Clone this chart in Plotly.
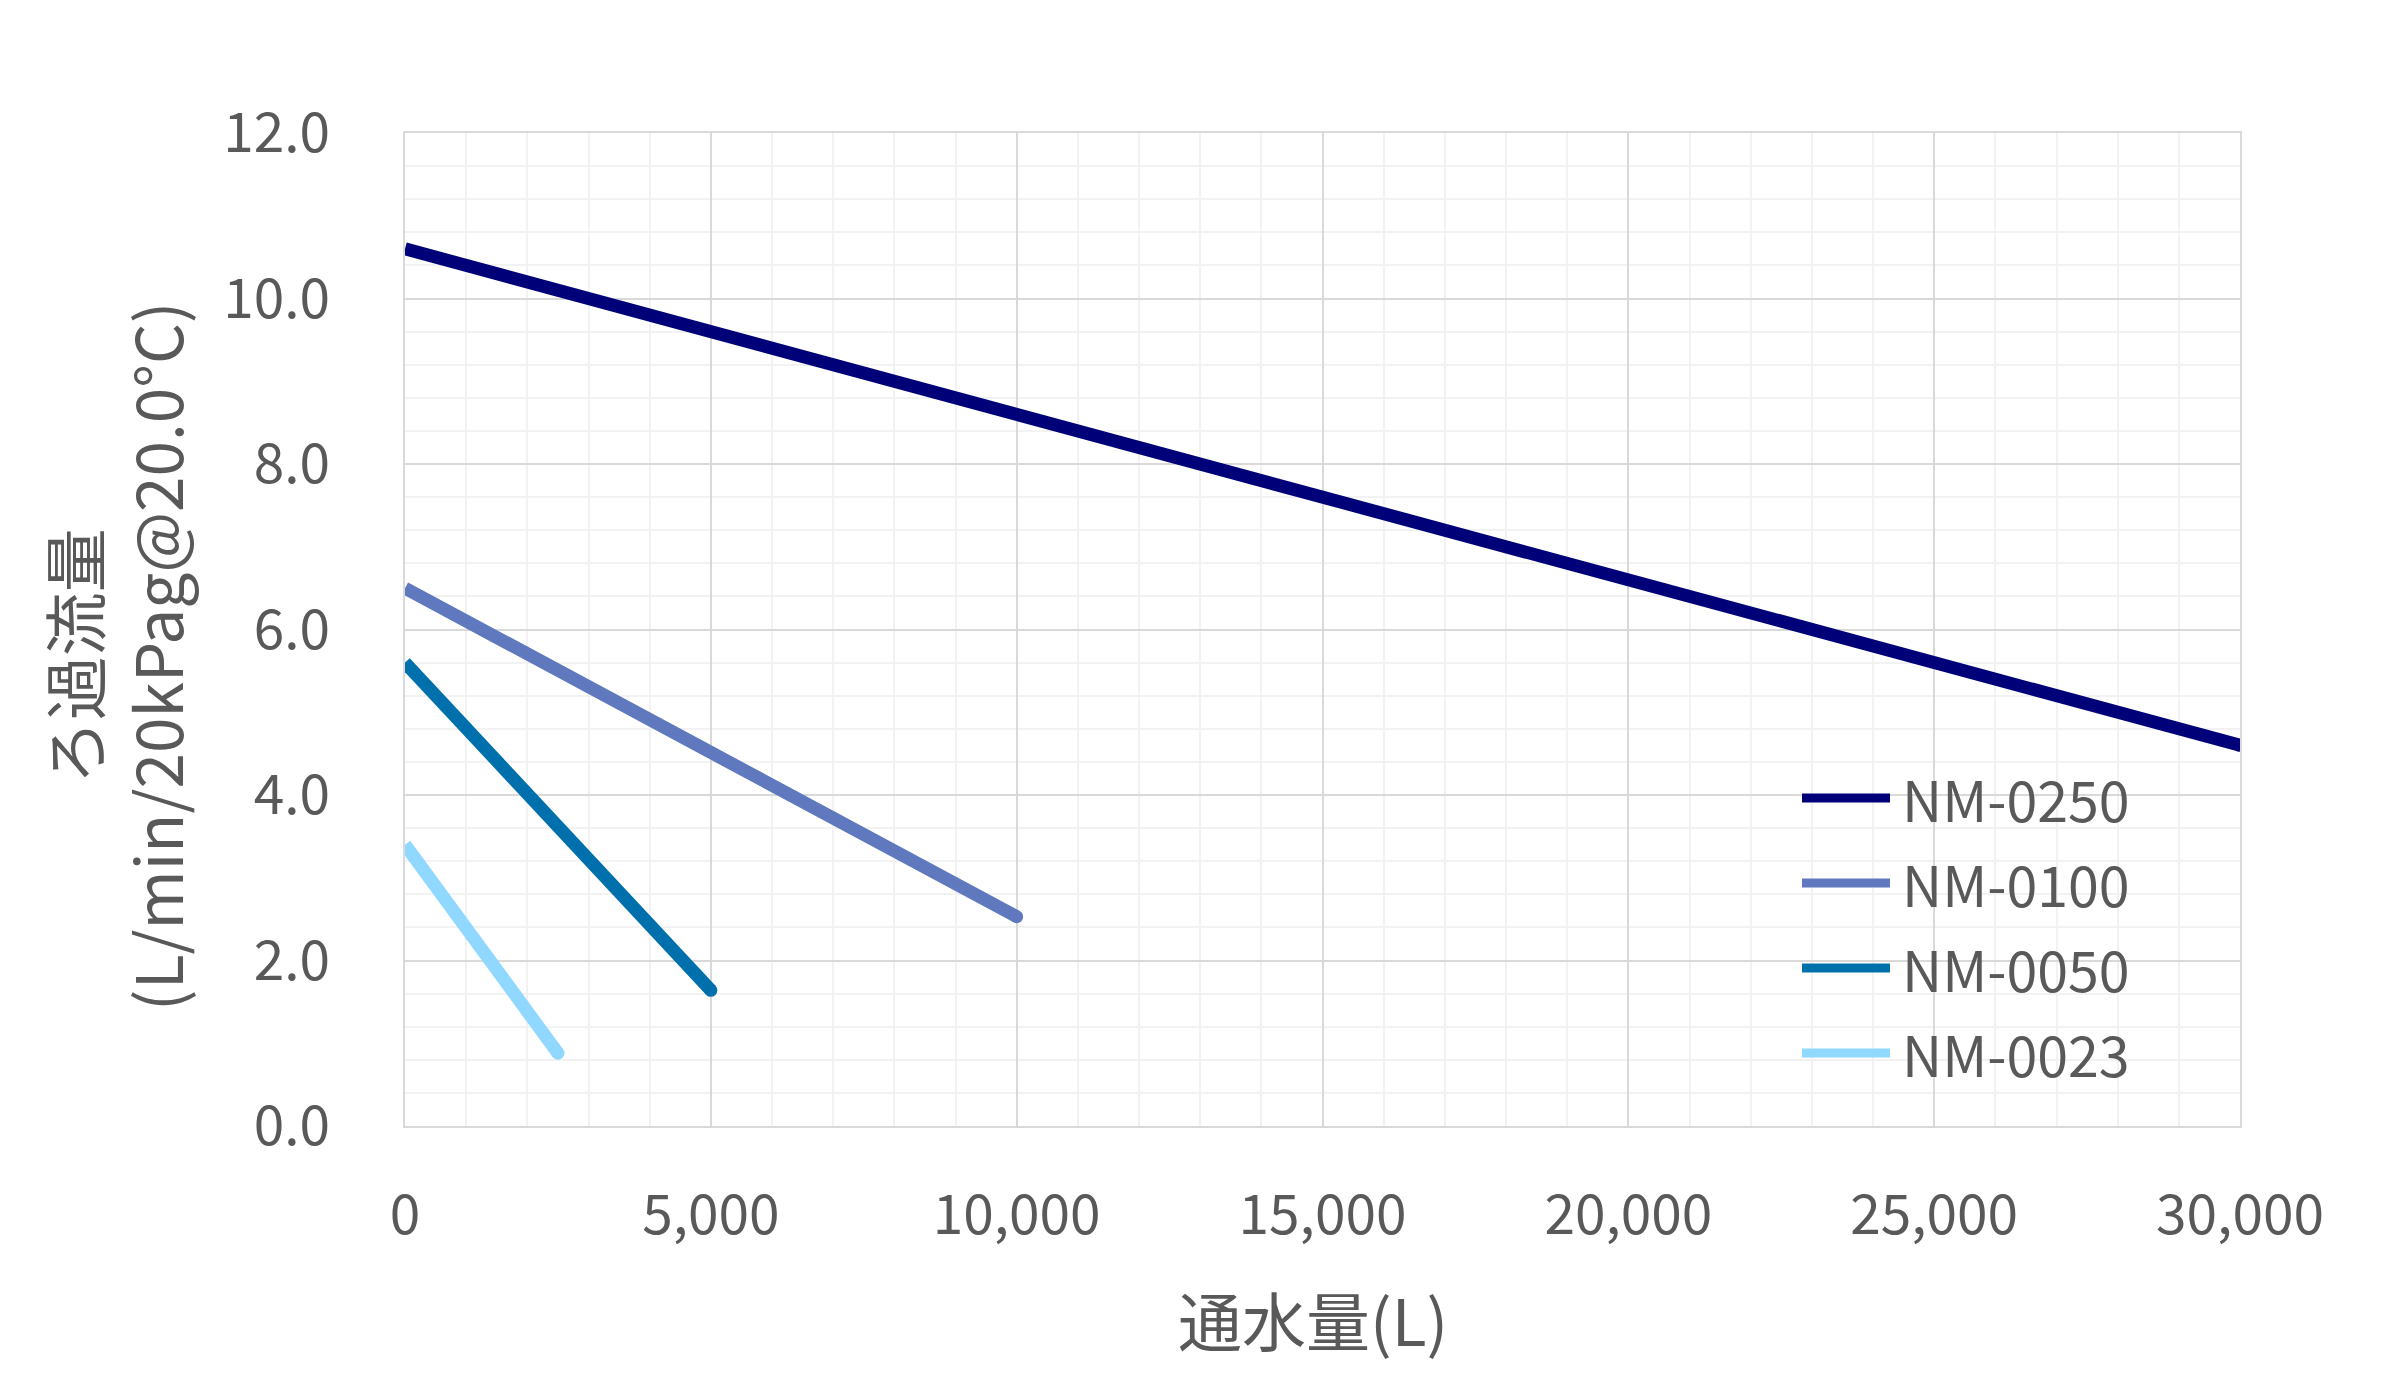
import plotly.graph_objects as go

# ---- data ----
series_names = ["NM-0250", "NM-0100", "NM-0050", "NM-0023"]
series_colors = ["#000078", "#6078BE", "#0070AC", "#90D8FF"]

x_nm0250 = [0, 5000, 10000, 15000, 20000, 25000, 30000]
y_nm0250 = [10.6, 9.6, 8.6, 7.6, 6.6, 5.6, 4.6]

x_nm0100 = [0, 5000, 10000]
y_nm0100 = [6.5, 4.52, 2.53]

x_nm0050 = [0, 5000]
y_nm0050 = [5.6, 1.64]

x_nm0023 = [0, 2500]
y_nm0023 = [3.4, 0.88]

x_title = "通水量(L)"
y_title = "ろ過流量<br>(L/min/20kPag@20.0°C)"

xs = [x_nm0250, x_nm0100, x_nm0050, x_nm0023]
ys = [y_nm0250, y_nm0100, y_nm0050, y_nm0023]

FONT = "Noto Sans CJK JP"
GRAY = "#595959"
W, H = 2403, 1397
ML, MR, MT, MB = 405, 163, 133, 271
PW, PH = W - ML - MR, H - MT - MB

fig = go.Figure()
LW = 13
for name, col, x, y in zip(series_names, series_colors, xs, ys):
    fig.add_trace(go.Scatter(x=x, y=y, mode="lines", name=name,
                             line=dict(color=col, width=LW), showlegend=False))
    # round end caps
    fig.add_trace(go.Scatter(x=[x[-1]], y=[y[-1]], mode="markers", showlegend=False,
                             marker=dict(color=col, size=LW, line=dict(width=0)),
                             hoverinfo="skip"))

def px2paper_x(px):
    return (px - ML) / PW

def px2paper_y(py):
    return (H - MB - py) / PH

# manual legend
leg_y0 = 798
leg_dy = 85
for i, (name, col) in enumerate(zip(series_names, series_colors)):
    py = leg_y0 + i * leg_dy
    fig.add_shape(type="line", xref="paper", yref="paper",
                  x0=px2paper_x(1802), x1=px2paper_x(1890),
                  y0=px2paper_y(py), y1=px2paper_y(py),
                  line=dict(color=col, width=9))
    fig.add_annotation(xref="paper", yref="paper", x=px2paper_x(1900), y=px2paper_y(py),
                       text=name, showarrow=False, xanchor="left", yanchor="middle",
                       font=dict(family=FONT, size=55.5, color=GRAY))

fig.add_annotation(xref="paper", yref="paper", x=px2paper_x(1313), y=px2paper_y(1318),
                   text=x_title, showarrow=False, xanchor="center", yanchor="middle",
                   font=dict(family=FONT, size=64, color=GRAY))
fig.add_annotation(xref="paper", yref="paper", x=px2paper_x(113), y=px2paper_y(657),
                   text=y_title, showarrow=False, xanchor="center", yanchor="middle",
                   textangle=-90,
                   font=dict(family=FONT, size=64, color=GRAY))

fig.update_xaxes(range=[0, 30000], dtick=5000, tickformat=",d",
                 showgrid=True, gridcolor="#D9D9D9", gridwidth=2,
                 minor=dict(dtick=1000, showgrid=True, gridcolor="#F2F2F2", gridwidth=2),
                 showline=True, linecolor="#D9D9D9", linewidth=2, mirror=True,
                 zeroline=False, ticks="", ticklabelstandoff=40,
                 tickfont=dict(family=FONT, size=55, color=GRAY))
fig.update_yaxes(range=[0, 12], dtick=2, tickformat=".1f",
                 showgrid=True, gridcolor="#D9D9D9", gridwidth=2,
                 minor=dict(dtick=0.4, showgrid=True, gridcolor="#F2F2F2", gridwidth=2),
                 showline=True, linecolor="#D9D9D9", linewidth=2, mirror=True,
                 zeroline=False, ticks="", ticklabelstandoff=62,
                 tickfont=dict(family=FONT, size=55, color=GRAY))

fig.update_layout(width=W, height=H,
                  margin=dict(l=ML, r=MR, t=MT, b=MB, pad=0),
                  paper_bgcolor="white", plot_bgcolor="white",
                  showlegend=False,
                  font=dict(family=FONT, color=GRAY))

fig.write_html("out.html")
